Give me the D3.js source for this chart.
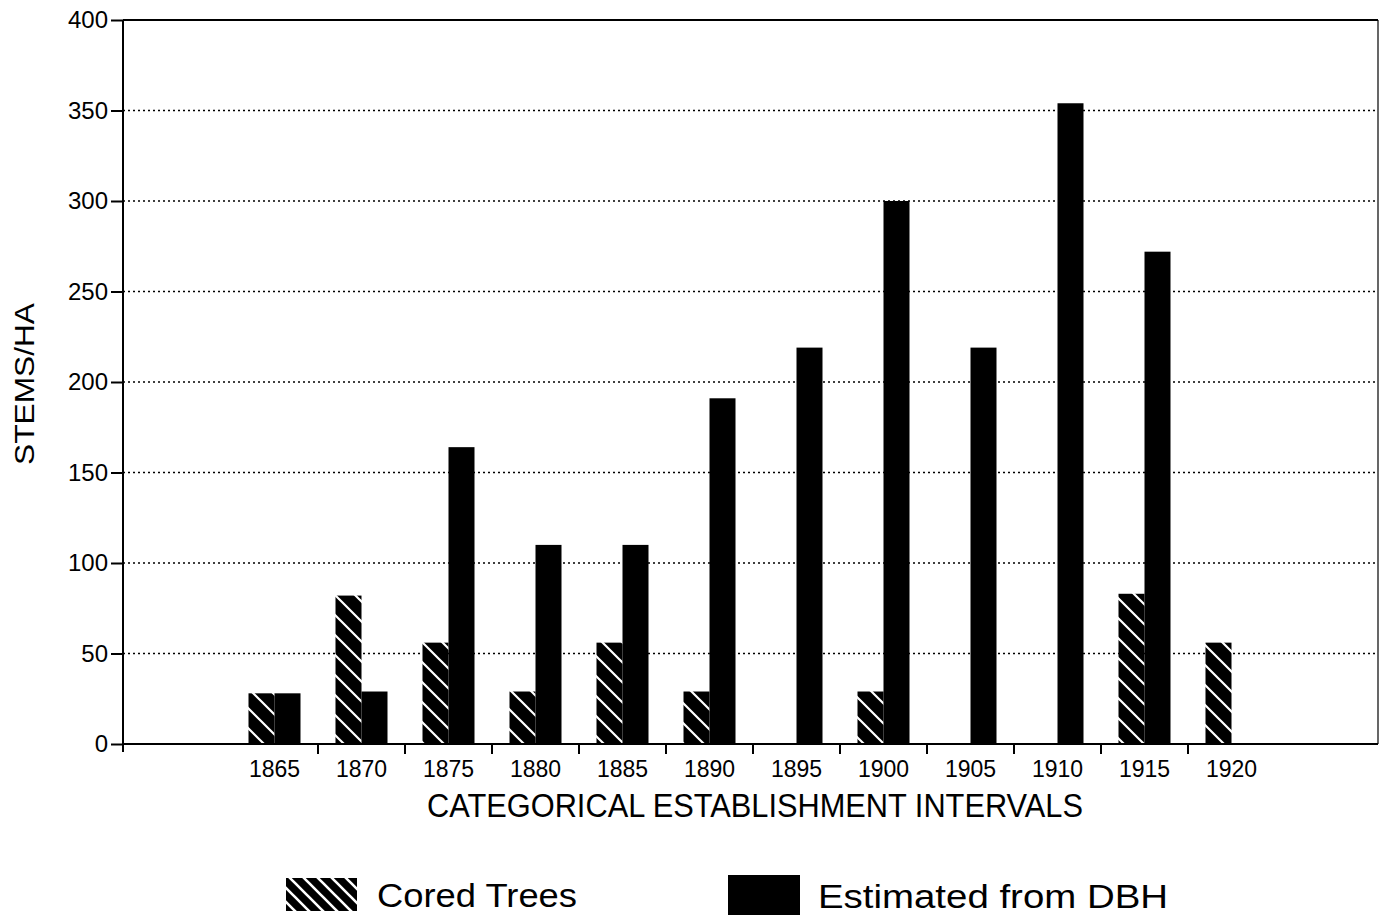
<!DOCTYPE html>
<html><head><meta charset="utf-8">
<script src="https://cdn.jsdelivr.net/npm/d3@7"></script>
<style>body{margin:0;background:#fff}svg{display:block}text{font-family:"Liberation Sans",Arial,sans-serif;fill:#000}</style>
</head><body>
<script>
const categories = ["1865","1870","1875","1880","1885","1890","1895","1900","1905","1910","1915","1920"];
const coredTrees = [28,82,56,29,56,29,0,29,0,0,83,56];
const estimatedDBH = [28,29,164,110,110,191,219,300,219,354,272,0];
const yTicks = [0,50,100,150,200,250,300,350,400];
const seriesNames = ["Cored Trees","Estimated from DBH"];

(function(){
const W=1381,H=919;
const svg=d3.select("body").append("svg").attr("width",W).attr("height",H);
const defs=svg.append("defs");
const pat=defs.append("pattern").attr("id","hatch").attr("patternUnits","userSpaceOnUse")
  .attr("width",20).attr("height",20);
pat.append("rect").attr("width",20).attr("height",20).attr("fill","#000");
pat.append("path").attr("d","M-5,-5L25,25M-5,15L5,25M15,-5L25,5").attr("stroke","#fff").attr("stroke-width",2.2);
const pat2=defs.append("pattern").attr("id","hatch2").attr("patternUnits","userSpaceOnUse")
  .attr("width",14).attr("height",14);
pat2.append("rect").attr("width",14).attr("height",14).attr("fill","#000");
pat2.append("path").attr("d","M-3,-3L17,17M-3,11L3,17M11,-3L17,3").attr("stroke","#fff").attr("stroke-width",2.6);

const pLeft=123,pRight=1378,pTop=20,pBottom=744;
const y=d3.scaleLinear().domain([0,400]).range([pBottom,pTop]);
const x=d3.scaleBand().domain(categories).range([231,231+87*categories.length]).paddingInner(0).paddingOuter(0);
const barW=26;

const g=svg.append("g");
g.selectAll("line.grid").data(yTicks.filter(t=>t>0&&t<400)).join("line")
  .attr("x1",pLeft).attr("x2",pRight).attr("y1",d=>y(d)).attr("y2",d=>y(d))
  .attr("stroke","#000").attr("stroke-width",1.6).attr("stroke-dasharray","2,3");
g.append("line").attr("x1",pLeft).attr("x2",pRight).attr("y1",y(400)).attr("y2",y(400)).attr("stroke","#000").attr("stroke-width",2);
g.append("line").attr("x1",pRight).attr("x2",pRight).attr("y1",y(400)).attr("y2",y(0)).attr("stroke","#000").attr("stroke-width",1.2);

const data=categories.map((c,i)=>({c,cored:coredTrees[i],est:estimatedDBH[i]}));
g.selectAll("rect.cored").data(data.filter(d=>d.cored>0)).join("rect").attr("class","cored")
  .attr("x",d=>x(d.c)+x.bandwidth()/2-barW).attr("width",barW)
  .attr("y",d=>y(d.cored)).attr("height",d=>y(0)-y(d.cored)).attr("fill","url(#hatch)");
g.selectAll("rect.est").data(data.filter(d=>d.est>0)).join("rect").attr("class","est")
  .attr("x",d=>x(d.c)+x.bandwidth()/2).attr("width",barW)
  .attr("y",d=>y(d.est)).attr("height",d=>y(0)-y(d.est)).attr("fill","#000");

const ya=svg.append("g").attr("transform",`translate(${pLeft},0)`)
  .call(d3.axisLeft(y).tickValues(yTicks).tickSize(12).tickPadding(3).tickFormat(d3.format("d")));
ya.select(".domain").attr("stroke-width",2).attr("d",`M0,${pTop}V${pBottom+8}`);
ya.selectAll(".tick line").attr("stroke-width",2);
ya.selectAll(".tick text").attr("font-size",24).attr("font-family","Liberation Sans, Arial, sans-serif");

const xa=svg.append("g").attr("transform",`translate(0,${pBottom})`)
  .call(d3.axisBottom(x).tickSize(0).tickPadding(0));
xa.select(".domain").attr("stroke-width",2).attr("d",`M${pLeft},0H${pRight}`);
xa.selectAll(".tick text").attr("font-size",23).attr("dy",null).attr("y",33)
  .attr("font-family","Liberation Sans, Arial, sans-serif");
xa.selectAll("line.sep").data(categories.slice(1)).join("line").attr("class","sep")
  .attr("x1",d=>x(d)).attr("x2",d=>x(d)).attr("y1",0).attr("y2",10).attr("stroke","#000").attr("stroke-width",2);

svg.append("text").attr("x",427).attr("y",817).attr("font-size",33)
  .attr("textLength",656).attr("lengthAdjust","spacingAndGlyphs").text("CATEGORICAL ESTABLISHMENT INTERVALS");
svg.append("text").attr("transform","translate(34,465) rotate(-90)").attr("font-size",28)
  .attr("textLength",162).attr("lengthAdjust","spacingAndGlyphs").text("STEMS/HA");

const leg=svg.append("g");
leg.append("rect").attr("x",286).attr("y",878).attr("width",71).attr("height",33).attr("fill","url(#hatch2)");
leg.append("text").attr("x",377).attr("y",907).attr("font-size",33).attr("textLength",200).attr("lengthAdjust","spacingAndGlyphs").text(seriesNames[0]);
leg.append("rect").attr("x",728).attr("y",875).attr("width",72).attr("height",40).attr("fill","#000");
leg.append("text").attr("x",818).attr("y",908).attr("font-size",34).attr("textLength",350).attr("lengthAdjust","spacingAndGlyphs").text(seriesNames[1]);
})();
</script>
</body></html>
